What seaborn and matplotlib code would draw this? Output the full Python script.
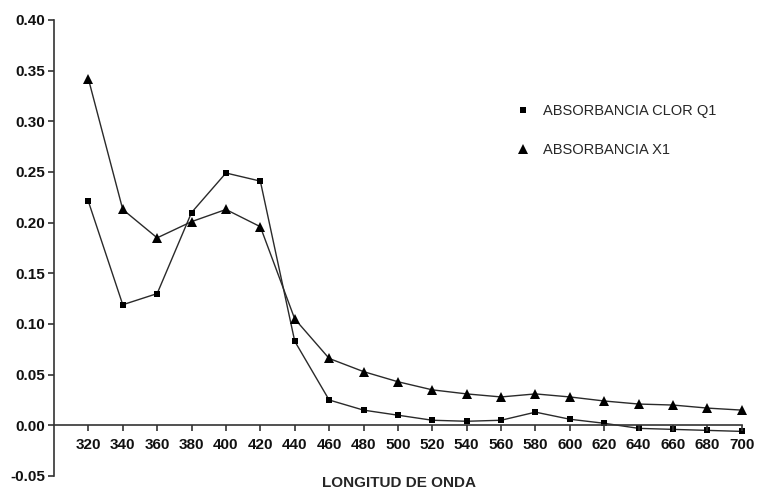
import numpy as np
import pandas as pd
import matplotlib
matplotlib.use("Agg")
import matplotlib.pyplot as plt
import seaborn as sns

# wavelengths (nm)
wavelength = [320, 340, 360, 380, 400, 420, 440, 460, 480, 500,
              520, 540, 560, 580, 600, 620, 640, 660, 680, 700]

# absorbance
abs_clor_q1 = [0.221, 0.119, 0.130, 0.210, 0.249, 0.241, 0.083, 0.025, 0.015, 0.010,
               0.005, 0.004, 0.005, 0.013, 0.006, 0.002, -0.003, -0.004, -0.005, -0.006]
abs_x1 = [0.342, 0.213, 0.185, 0.201, 0.213, 0.196, 0.105, 0.066, 0.053, 0.043,
          0.035, 0.031, 0.028, 0.031, 0.028, 0.024, 0.021, 0.020, 0.017, 0.015]

labels = ["ABSORBANCIA CLOR Q1", "ABSORBANCIA X1"]
x_ticks = list(range(320, 701, 20))
y_ticks = [-0.05, 0.00, 0.05, 0.10, 0.15, 0.20, 0.25, 0.30, 0.35, 0.40]

df = pd.DataFrame({
    "wl": wavelength * 2,
    "abs": abs_clor_q1 + abs_x1,
    "serie": [labels[0]] * len(wavelength) + [labels[1]] * len(wavelength),
})

sns.set_style("ticks")
plt.rcParams["font.family"] = ["Liberation Sans", "DejaVu Sans"]

fig = plt.figure(figsize=(7.57, 4.90), dpi=100)
ax = fig.add_axes([0.0713, 0.0286, 0.9087, 0.9306])

sns.lineplot(data=df, x="wl", y="abs", style="serie", hue="serie",
             palette=["black", "black"], markers=["s", "^"], dashes=False,
             linewidth=1, ax=ax)
marker_sizes = [4.6, 7.5]
for line, ms in zip(ax.lines[:2], marker_sizes):
    line.set_color("#2a2a2a")
    line.set_markerfacecolor("black")
    line.set_markeredgewidth(0)
    line.set_markersize(ms)
    line.set_clip_on(False)

ax.set_xlim(300, 700)
ax.set_ylim(-0.05, 0.40)
ax.set_xticks(x_ticks)
ax.set_yticks(y_ticks)
ax.set_yticklabels([f"{v:.2f}" for v in y_ticks])

ax.spines["top"].set_visible(False)
ax.spines["right"].set_visible(False)
ax.spines["bottom"].set_position(("data", 0))
for s in ["left", "bottom"]:
    ax.spines[s].set_color("#333333")
    ax.spines[s].set_linewidth(1.2)

# tick marks drawn at the tick positions (x ticks hang below the zero line)
ax.tick_params(axis="both", length=0, labelcolor="#111111", labelsize=11)
ax.tick_params(axis="y", pad=6.5)
ax.tick_params(axis="x", pad=9)
ax.vlines(x_ticks, -0.006, 0, colors="#333333", linewidth=1.2, clip_on=False)
ax.hlines(y_ticks, -0.009, 0, colors="#333333", linewidth=1.2, clip_on=False,
          transform=ax.get_yaxis_transform())
for t in ax.get_xticklabels() + ax.get_yticklabels():
    t.set_fontweight("bold")

ax.set_xlabel("")
ax.set_ylabel("")
fig.text(0.527, 0.0, "LONGITUD DE ONDA", ha="center", va="bottom",
         fontsize=11, fontweight="bold")

handles, _ = ax.get_legend_handles_labels()
ax.legend(handles=handles, labels=labels, loc="upper left",
          bbox_to_anchor=(0.65, 0.845), frameon=False, fontsize=10.5,
          handlelength=1.2, handletextpad=0.8, labelspacing=1.75)
for h, ms in zip(ax.get_legend().legend_handles, marker_sizes):
    h.set_linestyle("none")
    h.set_markeredgewidth(0)
    h.set_markersize(ms)

fig.savefig("out.png", dpi=100)
